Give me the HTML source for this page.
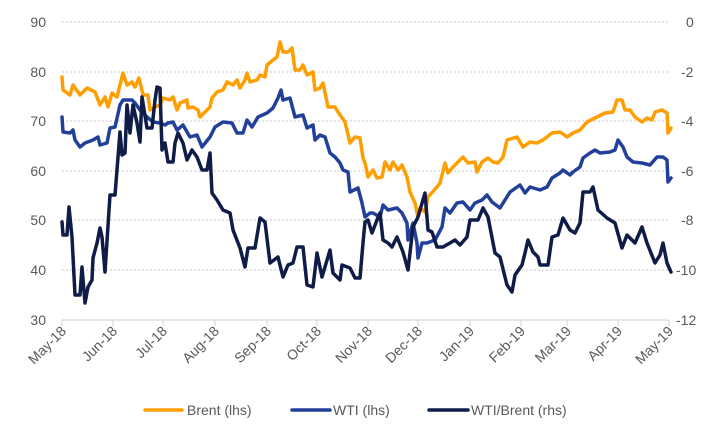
<!DOCTYPE html>
<html><head><meta charset="utf-8"><style>
html,body{margin:0;padding:0;background:#fff;}
svg{display:block;font-family:"Liberation Sans",Arial,sans-serif;}
</style></head><body>
<svg width="723" height="440" viewBox="0 0 723 440">
<g stroke="#c8c8c8" stroke-width="1" stroke-dasharray="2,2">
<line x1="62" y1="22" x2="669" y2="22"/><line x1="62" y1="72" x2="669" y2="72"/>
<line x1="62" y1="121" x2="669" y2="121"/><line x1="62" y1="171" x2="669" y2="171"/>
<line x1="62" y1="220" x2="669" y2="220"/><line x1="62" y1="270" x2="669" y2="270"/>
</g>
<line x1="62" y1="320" x2="669" y2="320" stroke="#d0d0d0" stroke-width="1"/>
<g stroke="#d0d0d0" stroke-width="1">
<line x1="62" y1="320" x2="62" y2="326"/><line x1="113" y1="320" x2="113" y2="326"/><line x1="163" y1="320" x2="163" y2="326"/><line x1="215" y1="320" x2="215" y2="326"/><line x1="267" y1="320" x2="267" y2="326"/><line x1="317" y1="320" x2="317" y2="326"/><line x1="368" y1="320" x2="368" y2="326"/><line x1="418" y1="320" x2="418" y2="326"/><line x1="470" y1="320" x2="470" y2="326"/><line x1="521" y1="320" x2="521" y2="326"/><line x1="567" y1="320" x2="567" y2="326"/><line x1="618" y1="320" x2="618" y2="326"/><line x1="669" y1="320" x2="669" y2="326"/>
</g>
<g fill="#595959" font-size="14" text-anchor="end">
<text x="46" y="27">90</text><text x="46" y="77">80</text><text x="46" y="126">70</text><text x="46" y="176">60</text><text x="46" y="225">50</text><text x="46" y="275">40</text><text x="46" y="325">30</text>
</g>
<g fill="#595959" font-size="14" text-anchor="start">
<text x="686" y="27">0</text><text x="681" y="77">-2</text><text x="681" y="126">-4</text><text x="681" y="176">-6</text><text x="681" y="225">-8</text><text x="676" y="275">-10</text><text x="676" y="325">-12</text>
</g>
<g fill="#595959" font-size="14" text-anchor="end">
<text transform="translate(67,332) rotate(-45)">May-18</text>
<text transform="translate(118,332) rotate(-45)">Jun-18</text>
<text transform="translate(168,332) rotate(-45)">Jul-18</text>
<text transform="translate(220,332) rotate(-45)">Aug-18</text>
<text transform="translate(272,332) rotate(-45)">Sep-18</text>
<text transform="translate(322,332) rotate(-45)">Oct-18</text>
<text transform="translate(373,332) rotate(-45)">Nov-18</text>
<text transform="translate(423,332) rotate(-45)">Dec-18</text>
<text transform="translate(475,332) rotate(-45)">Jan-19</text>
<text transform="translate(526,332) rotate(-45)">Feb-19</text>
<text transform="translate(572,332) rotate(-45)">Mar-19</text>
<text transform="translate(623,332) rotate(-45)">Apr-19</text>
<text transform="translate(674,332) rotate(-45)">May-19</text>
</g>
<g fill="none" stroke-width="3.5" stroke-linejoin="round" stroke-linecap="round">
<polyline stroke="#FF9E00" points="62,77 63,90 70,95 73,85 80,95 87,88 95,92 100,105 105,97 108,107 112,93 117,97 123,73 127,85 132,82 135,87 139,78 143,95 148,95 150,110 155,107 160,105 163,98 170,100 173,97 177,110 180,103 187,100 188,108 193,107 198,110 200,117 205,112 210,107 212,98 217,92 223,90 227,82 233,85 237,80 240,88 245,80 247,73 250,82 257,80 260,75 265,77 267,65 273,60 277,57 280,42 283,52 288,52 292,48 295,70 300,70 303,65 307,75 313,72 315,90 320,88 323,83 328,107 335,107 338,112 345,122 350,143 355,137 360,138 363,158 365,163 368,177 373,170 377,178 382,177 385,162 390,170 393,162 398,170 402,165 407,177 410,192 415,203 418,217 420,208 425,212 428,197 437,187 440,183 445,163 448,173 453,167 460,160 463,157 468,163 475,162 477,172 482,162 488,158 493,162 498,163 503,157 507,140 517,137 523,147 530,142 537,143 543,140 552,133 560,132 567,137 573,133 580,130 587,122 597,117 605,113 613,112 617,100 622,100 625,110 630,110 635,117 642,122 647,118 652,120 655,112 662,110 667,113 668,133 671,128"/>
<polyline stroke="#22409A" points="62,117 63,132 70,133 73,130 75,140 80,147 85,143 93,140 98,137 100,145 107,143 110,128 115,127 120,105 123,100 132,100 135,103 140,110 147,117 153,122 160,123 165,125 168,123 173,122 177,130 183,125 190,137 197,135 202,147 210,137 215,127 223,122 232,123 237,133 243,133 247,120 252,127 258,117 267,113 273,108 278,98 281,90 283,100 290,98 295,117 303,115 307,128 313,125 315,140 320,135 325,137 330,153 335,157 340,163 343,170 348,172 350,192 358,188 362,203 365,217 370,213 373,213 380,217 383,205 388,210 397,208 402,213 407,223 408,240 413,223 417,243 418,258 422,243 427,243 435,240 442,227 445,208 450,213 457,203 463,202 470,210 475,203 482,200 487,195 492,202 500,208 505,200 510,192 520,185 525,193 530,187 540,190 547,187 552,178 560,173 563,170 570,175 573,172 580,167 583,158 590,153 595,150 600,153 610,152 615,150 618,140 623,147 627,157 633,162 642,163 650,165 657,157 663,157 667,160 668,182 671,178"/>
<polyline stroke="#0E1C47" points="62,222 63,235 67,235 69,207 72,237 75,295 80,295 82,267 85,303 88,287 92,280 93,258 97,243 100,228 102,237 105,272 110,195 115,195 120,132 122,155 125,153 127,105 130,133 133,105 137,123 140,142 142,97 147,128 152,128 155,100 157,87 160,88 162,150 165,143 168,162 173,162 175,143 178,133 183,143 187,160 192,150 197,157 202,170 207,170 210,153 212,193 217,200 223,210 230,213 233,230 240,248 245,267 248,248 255,248 260,218 265,222 270,263 278,257 283,277 288,265 293,263 297,247 303,247 307,285 313,287 317,253 322,277 330,250 333,273 340,280 342,265 350,268 355,278 360,278 363,243 365,222 368,220 372,233 377,220 380,213 383,240 388,243 392,247 397,237 403,252 408,270 413,227 418,217 425,193 428,230 432,232 437,247 443,247 450,243 455,240 460,245 467,237 470,220 478,220 483,208 488,217 495,253 500,257 507,285 512,292 515,275 522,265 525,253 528,240 533,252 538,257 540,265 548,265 552,237 558,235 563,218 570,230 575,233 580,223 583,192 590,192 593,187 598,210 607,218 615,223 622,248 627,235 635,243 642,227 647,243 655,263 660,255 663,243 667,263 671,272"/>
</g>
<g stroke-width="3.5" stroke-linecap="round">
<line x1="145" y1="410" x2="182" y2="410" stroke="#FF9E00"/>
<line x1="292" y1="410" x2="330" y2="410" stroke="#22409A"/>
<line x1="429" y1="410" x2="468" y2="410" stroke="#0E1C47"/>
</g>
<g fill="#595959" font-size="14">
<text x="187" y="415">Brent (lhs)</text>
<text x="333" y="415">WTI (lhs)</text>
<text x="471" y="415">WTI/Brent (rhs)</text>
</g>
</svg>
</body></html>
